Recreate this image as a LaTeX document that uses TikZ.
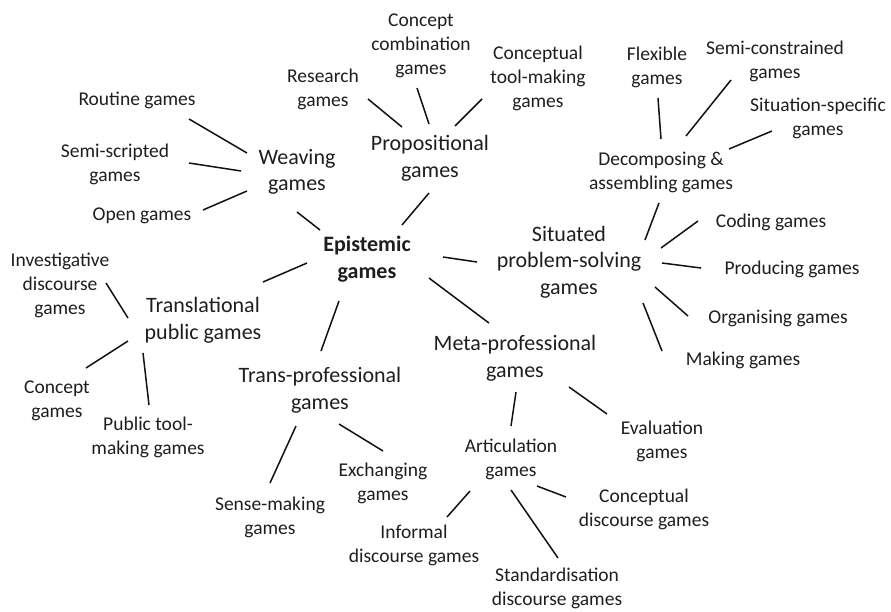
\documentclass[tikz,border=0pt]{standalone}
\usepackage{fontspec}
\setmainfont{Carlito}
\definecolor{textcol}{HTML}{1E1E1E}
\definecolor{linecol}{HTML}{111111}
\begin{document}
\begin{tikzpicture}[x=1pt,y=-1pt,
  leaf/.style={align=center,inner sep=0pt,text=textcol,font=\fontsize{19.5}{24}\selectfont},
  hub/.style={align=center,inner sep=0pt,text=textcol,font=\fontsize{22}{26.5}\selectfont},
  root/.style={align=center,inner sep=0pt,text=textcol,font=\fontsize{22}{26.5}\selectfont\bfseries},
  link/.style={line width=1.5pt,draw=linecol}]
\useasboundingbox (0,0) rectangle (891,611);

% ---- central node and main branches
\node[root] (epi)   at (367,259) {Epistemic\\games};
\node[hub]  (weave) at (297,172) {Weaving\\games};
\node[hub]  (prop)  at (430,158) {Propositional\\games};
\node[hub]  (trl)   at (203,320) {Translational\\public games};
\node[hub]  (trp)   at (320,390) {Trans-professional\\games};
\node[hub]  (meta)  at (515,358) {Meta-professional\\games};
\node[hub]  (sit)   at (569,262) {Situated\\problem-solving\\games};

% ---- second-level nodes
\node[leaf] (routine) at (137,100) {Routine games};
\node[leaf] (semis)   at (115,164) {Semi-scripted\\games};
\node[leaf] (open)    at (142,216) {Open games};
\node[leaf] (res)     at (323,89)  {Research\\games};
\node[leaf] (ccomb)   at (421,46)  {Concept\\combination\\games};
\node[leaf] (ctool)   at (538,78)  {Conceptual\\tool-making\\games};
\node[leaf] (invest)  at (60,285)  {Investigative\\discourse\\games};
\node[leaf] (concept) at (57,401)  {Concept\\games};
\node[leaf] (ptool)   at (148,437) {Public tool-\\making games};
\node[leaf] (sense)   at (270,517) {Sense-making\\games};
\node[leaf] (exch)    at (383,483) {Exchanging\\games};
\node[leaf] (artic)   at (511,459) {Articulation\\games};
\node[leaf] (evalg)   at (662,441) {Evaluation\\games};
\node[leaf] (informal) at (414,545) {Informal\\discourse games};
\node[leaf] (cdisc)   at (644,509) {Conceptual\\discourse games};
\node[leaf] (stand)   at (557,588) {Standardisation\\discourse games};
\node[leaf] (decomp)  at (661,172) {Decomposing \&\\assembling games};
\node[leaf] (flex)    at (657,67)  {Flexible\\games};
\node[leaf] (semic)   at (775,61)  {Semi-constrained\\games};
\node[leaf] (sitspec) at (818,118) {Situation-specific\\games};
\node[leaf] (coding)  at (771,222) {Coding games};
\node[leaf] (prod)    at (792,269) {Producing games};
\node[leaf] (organ)   at (778,318) {Organising games};
\node[leaf] (making)  at (743,360) {Making games};

% ---- connector ends (the connectors stop short of the texts)
\coordinate (epi-nw)  at (320,230);  \coordinate (weave-se) at (297,212);
\coordinate (epi-ne)  at (402,225);  \coordinate (prop-s)   at (429,193);
\coordinate (epi-w)   at (307,263);  \coordinate (trl-ne)   at (263,282);
\coordinate (epi-s)   at (339,301);  \coordinate (trp-n)    at (321,351);
\coordinate (epi-se)  at (429,278);  \coordinate (meta-nw)  at (489,323);
\coordinate (epi-e)   at (443,257);  \coordinate (sit-w)    at (477,262);

\coordinate (routine-e) at (189,119); \coordinate (weave-w1) at (247,153);
\coordinate (semis-e)   at (189,163); \coordinate (weave-w2) at (241,171);
\coordinate (open-e)    at (203,210); \coordinate (weave-w3) at (247,191);

\coordinate (res-se)   at (368,99);  \coordinate (prop-n1) at (402,127);
\coordinate (ccomb-s)  at (417,88);  \coordinate (prop-n2) at (429,124);
\coordinate (ctool-sw) at (482,99);  \coordinate (prop-n3) at (455,126);

\coordinate (invest-se) at (106,283); \coordinate (trl-w1) at (128,318);
\coordinate (concept-ne) at (86,368); \coordinate (trl-w2) at (128,341);
\coordinate (ptool-n)   at (149,405); \coordinate (trl-s)  at (143,353);

\coordinate (sense-n) at (270,483); \coordinate (trp-s1) at (296,426);
\coordinate (exch-n)  at (383,451); \coordinate (trp-s2) at (339,424);

\coordinate (artic-n) at (511,426); \coordinate (meta-s1) at (516,392);
\coordinate (evalg-nw) at (607,414); \coordinate (meta-s2) at (569,387);
\coordinate (informal-ne) at (447,517); \coordinate (artic-s1) at (470,491);
\coordinate (stand-n)  at (558,558); \coordinate (artic-s2) at (511,490);
\coordinate (cdisc-w)  at (566,497); \coordinate (artic-s3) at (537,486);

\coordinate (decomp-s) at (659,203); \coordinate (sit-ne) at (645,240);
\coordinate (flex-s)   at (658,98);  \coordinate (decomp-n1) at (661,139);
\coordinate (semic-sw) at (731,80);  \coordinate (decomp-n2) at (686,136);
\coordinate (sitspec-sw) at (772,131); \coordinate (decomp-n3) at (729,149);
\coordinate (coding-sw) at (698,221); \coordinate (sit-e1) at (661,248);
\coordinate (prod-w)   at (701,268); \coordinate (sit-e2) at (662,263);
\coordinate (organ-nw) at (688,316); \coordinate (sit-e3) at (655,287);
\coordinate (making-n) at (662,351); \coordinate (sit-s)  at (643,303);

% ---- connectors
\draw[link] (weave-se) -- (epi-nw);
\draw[link] (prop-s) -- (epi-ne);
\draw[link] (epi-w) -- (trl-ne);
\draw[link] (epi-s) -- (trp-n);
\draw[link] (epi-se) -- (meta-nw);
\draw[link] (epi-e) -- (sit-w);

\draw[link] (routine-e) -- (weave-w1);
\draw[link] (semis-e) -- (weave-w2);
\draw[link] (open-e) -- (weave-w3);

\draw[link] (res-se) -- (prop-n1);
\draw[link] (ccomb-s) -- (prop-n2);
\draw[link] (ctool-sw) -- (prop-n3);

\draw[link] (invest-se) -- (trl-w1);
\draw[link] (concept-ne) -- (trl-w2);
\draw[link] (ptool-n) -- (trl-s);

\draw[link] (sense-n) -- (trp-s1);
\draw[link] (exch-n) -- (trp-s2);

\draw[link] (artic-n) -- (meta-s1);
\draw[link] (evalg-nw) -- (meta-s2);
\draw[link] (informal-ne) -- (artic-s1);
\draw[link] (stand-n) -- (artic-s2);
\draw[link] (cdisc-w) -- (artic-s3);

\draw[link] (decomp-s) -- (sit-ne);
\draw[link] (flex-s) -- (decomp-n1);
\draw[link] (semic-sw) -- (decomp-n2);
\draw[link] (sitspec-sw) -- (decomp-n3);
\draw[link] (coding-sw) -- (sit-e1);
\draw[link] (prod-w) -- (sit-e2);
\draw[link] (organ-nw) -- (sit-e3);
\draw[link] (making-n) -- (sit-s);
\end{tikzpicture}
\end{document}
